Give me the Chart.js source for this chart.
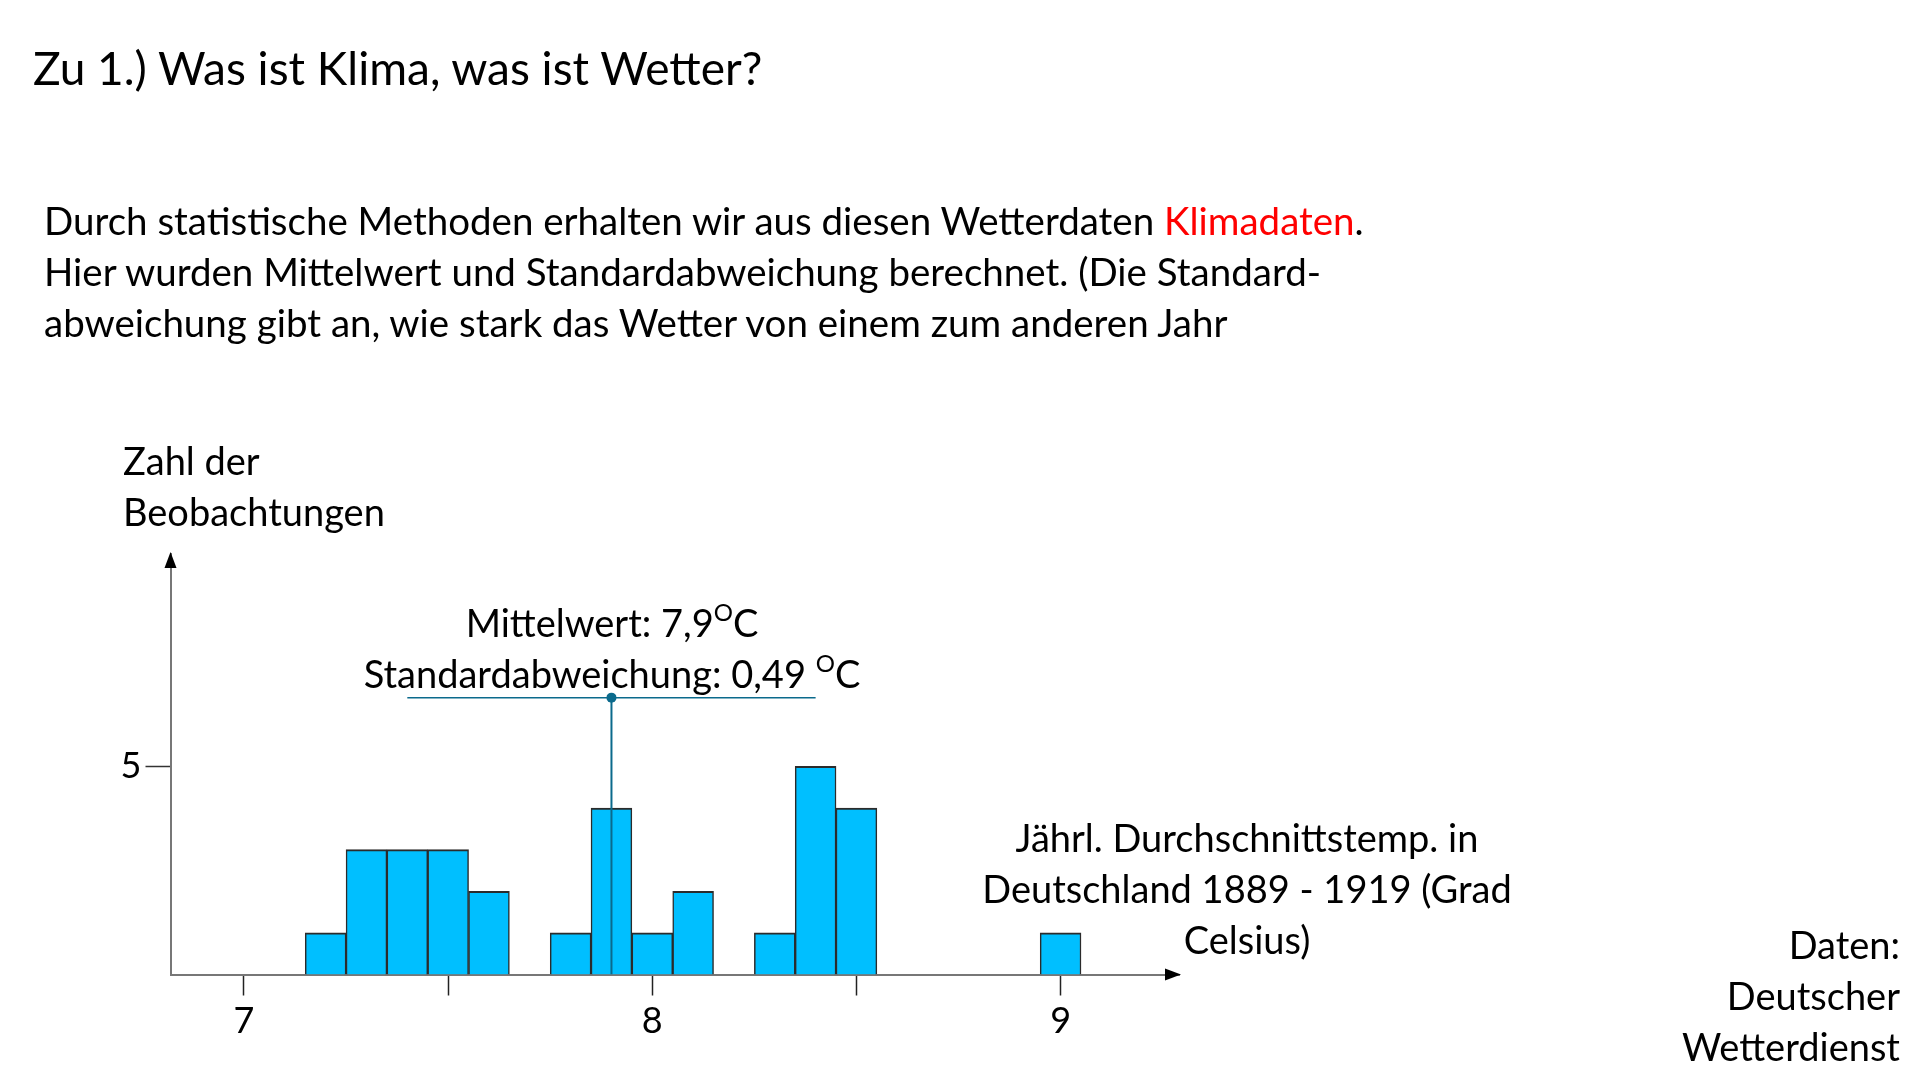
<!DOCTYPE html>
<html>
<head>
<meta charset="utf-8">
<script src="https://cdn.jsdelivr.net/npm/chart.js@4.4.1/dist/chart.umd.min.js"></script>
<style>
  html, body { margin: 0; padding: 0; background: #fff; }
  body { width: 1922px; height: 1082px; position: relative; overflow: hidden; font-family: Lato, "Open Sans", sans-serif; color: #000; }
  #chart { position: absolute; left: 0; top: 0; }
  .txt { position: absolute; white-space: nowrap; font-size: 38.5px; line-height: 51px; }
  .title { font-size: 46px; line-height: 60px; }
  .lbl { font-size: 38px; }
  .center { text-align: center; transform: translateX(-50%); }
  .right { text-align: right; transform: translateX(-100%); }
  .red { color: #ff0000; }
  sup { font-size: 24px; vertical-align: 16px; line-height: 0; }
</style>
</head>
<body>
<canvas id="chart" width="1922" height="1082"></canvas>

<div class="txt title" style="left:33px; top:38px;">Zu 1.) Was ist Klima, was ist Wetter?</div>
<div class="txt" style="left:44px; top:195px;">
  Durch statistische Methoden erhalten wir aus diesen Wetterdaten <span class="red">Klimadaten</span>.<br>
  Hier wurden Mittelwert und Standardabweichung berechnet. (Die Standard-<br>
  abweichung gibt an, wie stark das Wetter von einem zum anderen Jahr
</div>
<div class="txt lbl" style="left:123px; top:435px;">Zahl der<br>Beobachtungen</div>
<div class="txt lbl center" style="left:612px; top:597px;">Mittelwert: 7,9<sup>O</sup>C<br>Standardabweichung: 0,49 <sup>O</sup>C</div>
<div class="txt lbl center" style="left:1247px; top:812px;">Jährl. Durchschnittstemp. in<br>Deutschland 1889 - 1919 (Grad<br>Celsius)</div>
<div class="txt lbl right" style="left:1900px; top:919px;">Daten:<br>Deutscher<br>Wetterdienst</div>

<script>
// Histogram: annual mean temperature Germany 1889-1919, 0.1 °C bins
const binCenters = [7.2, 7.3, 7.4, 7.5, 7.6, 7.8, 7.9, 8.0, 8.1, 8.3, 8.4, 8.5, 9.0];
const counts = [1, 3, 3, 3, 2, 1, 4, 1, 2, 1, 5, 4, 1];

const xTicks = [7, 7.5, 8, 8.5, 9];
const xLabels = ["7", "", "8", "", "9"];
const yTicks = [5];
const yLabels = ["5"];

// mean marker and standard deviation bar
const meanValue = 7.9;
const markerHeight = 6.65;
const sdBarX = [7.4, 8.4];

const barData = binCenters.map((x, i) => ({ x: x, y: counts[i] }));
const meanLine = [{ x: meanValue, y: 0 }, { x: meanValue, y: markerHeight }];
const sdLine = sdBarX.map((x) => ({ x: x, y: markerHeight }));

const lineColor = "#0b6a8c";

const arrows = {
  id: "arrows",
  afterDraw(chart) {
    const { ctx, chartArea } = chart;
    ctx.save();
    ctx.fillStyle = "#000";
    // up arrow on y axis
    ctx.beginPath();
    ctx.moveTo(chartArea.left, chartArea.top - 2);
    ctx.lineTo(chartArea.left - 6, chartArea.top + 14);
    ctx.lineTo(chartArea.left + 6, chartArea.top + 14);
    ctx.closePath();
    ctx.fill();
    // right arrow on x axis
    ctx.beginPath();
    ctx.moveTo(chartArea.right + 2, chartArea.bottom);
    ctx.lineTo(chartArea.right - 14, chartArea.bottom - 6);
    ctx.lineTo(chartArea.right - 14, chartArea.bottom + 6);
    ctx.closePath();
    ctx.fill();
    ctx.restore();
  },
};

new Chart(document.getElementById("chart"), {
  type: "bar",
  data: {
    datasets: [
      {
        type: "line",
        data: meanLine,
        borderColor: lineColor,
        borderWidth: 2,
        pointRadius: [0, 5],
        pointBackgroundColor: lineColor,
        pointBorderWidth: 0,
        order: 1,
      },
      {
        type: "line",
        data: sdLine,
        borderColor: lineColor,
        borderWidth: 1.5,
        pointRadius: 0,
        order: 1,
      },
      {
        type: "bar",
        data: barData,
        backgroundColor: "#00bfff",
        borderColor: "#2b2b2b",
        borderWidth: { top: 2, left: 1.5, right: 1.5, bottom: 0 },
        barPercentage: 1,
        categoryPercentage: 1,
        order: 2,
      },
    ],
  },
  options: {
    responsive: false,
    animation: false,
    layout: { padding: { left: 110.5, right: 743, top: 554, bottom: 47.5 } },
    plugins: { legend: { display: false }, tooltip: { enabled: false } },
    scales: {
      x: {
        type: "linear",
        min: 6.82,
        max: 9.29,
        offset: false,
        afterBuildTicks: (scale) => { scale.ticks = xTicks.map((v) => ({ value: v })); },
        afterFit: (scale) => { scale.height = 60; },
        border: { display: true, color: "#777", width: 2 },
        grid: { offset: false, drawOnChartArea: false, drawTicks: true, tickLength: 21, tickColor: "#222", tickWidth: 1.5 },
        ticks: {
          padding: 4,
          color: "#000",
          font: { family: "Lato", size: 36 },
          maxRotation: 0,
          autoSkip: false,
          callback: (v, i) => xLabels[i],
        },
      },
      y: {
        min: 0,
        max: 10.1,
        afterBuildTicks: (scale) => { scale.ticks = yTicks.map((v) => ({ value: v })); },
        afterFit: (scale) => { scale.width = 60; },
        border: { display: true, color: "#777", width: 2 },
        grid: { drawOnChartArea: false, drawTicks: true, tickLength: 25, tickColor: "#333", tickWidth: 1.5 },
        ticks: {
          padding: 4,
          color: "#000",
          font: { family: "Lato", size: 36 },
          autoSkip: false,
          callback: (v, i) => yLabels[i],
        },
      },
    },
  },
  plugins: [arrows],
});
</script>
</body>
</html>
